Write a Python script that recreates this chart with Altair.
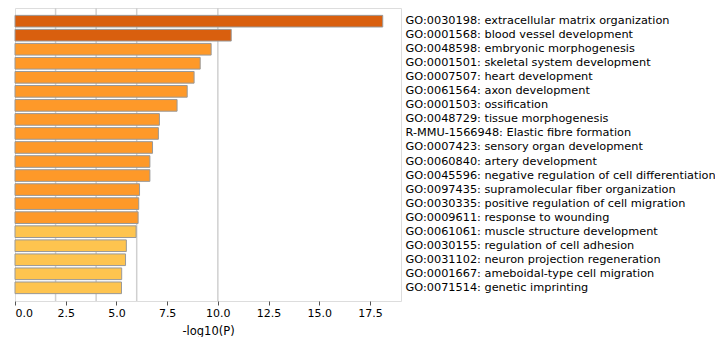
import altair as alt
import pandas as pd

terms = [
    "GO:0030198: extracellular matrix organization",
    "GO:0001568: blood vessel development",
    "GO:0048598: embryonic morphogenesis",
    "GO:0001501: skeletal system development",
    "GO:0007507: heart development",
    "GO:0061564: axon development",
    "GO:0001503: ossification",
    "GO:0048729: tissue morphogenesis",
    "R-MMU-1566948: Elastic fibre formation",
    "GO:0007423: sensory organ development",
    "GO:0060840: artery development",
    "GO:0045596: negative regulation of cell differentiation",
    "GO:0097435: supramolecular fiber organization",
    "GO:0030335: positive regulation of cell migration",
    "GO:0009611: response to wounding",
    "GO:0061061: muscle structure development",
    "GO:0030155: regulation of cell adhesion",
    "GO:0031102: neuron projection regeneration",
    "GO:0001667: ameboidal-type cell migration",
    "GO:0071514: genetic imprinting",
]
neg_log10_p = [18.13, 10.66, 9.67, 9.13, 8.83, 8.49, 7.99, 7.12, 7.07, 6.78,
               6.65, 6.65, 6.14, 6.10, 6.07, 5.97, 5.49, 5.45, 5.26, 5.25]
levels = ["high"] * 2 + ["mid"] * 13 + ["low"] * 5
grid_values = [2, 4, 6, 10]
x_ticks = [0, 2.5, 5, 7.5, 10, 12.5, 15, 17.5]

df = pd.DataFrame({"term": terms, "value": neg_log10_p, "level": levels})
grid_df = pd.DataFrame({"g": grid_values})

FONT = "DejaVu Sans"
xscale = alt.Scale(domain=[0, 19.03], nice=False, zero=True)

grid = alt.Chart(grid_df).mark_rule(color="#d0d0d0", strokeWidth=1.5).encode(
    x=alt.X("g:Q", scale=xscale)
)

bars = alt.Chart(df).mark_bar(stroke="#999999", strokeWidth=1).encode(
    x=alt.X(
        "value:Q",
        scale=xscale,
        title="-log10(P)",
        axis=alt.Axis(
            values=x_ticks,
            format=".1f",
            grid=False,
            domain=False,
            tickSize=4,
            tickColor="#555555",
            labelFontSize=11,
            labelFont=FONT,
            labelColor="#000000",
            labelPadding=2,
            titleFont=FONT,
            titleFontSize=11.5,
            titleFontWeight="normal",
            titleColor="#000000",
            titlePadding=7,
        ),
    ),
    y=alt.Y(
        "term:N",
        sort=terms,
        title=None,
        scale=alt.Scale(paddingInner=0.17, paddingOuter=0.525),
        axis=alt.Axis(
            orient="right",
            ticks=False,
            domain=False,
            labelAlign="left",
            labelPadding=4,
            labelFont=FONT,
            labelFontSize=11.3,
            labelColor="#000000",
            labelLimit=400,
        ),
    ),
    color=alt.Color(
        "level:N",
        scale=alt.Scale(domain=["high", "mid", "low"], range=["#D95F0E", "#FE9929", "#FEC44F"]),
        legend=None,
    ),
)

chart = (
    alt.layer(grid, bars)
    .properties(
        width=386,
        height=293,
        autosize=alt.AutoSizeParams(type="none"),
        padding={"left": 7, "top": 0, "right": 314, "bottom": 36},
    )
    .configure_view(stroke="#888888", strokeWidth=1)
    .configure(background="white")
)

chart.save("out.html", embed_options={"renderer": "svg", "actions": False})
